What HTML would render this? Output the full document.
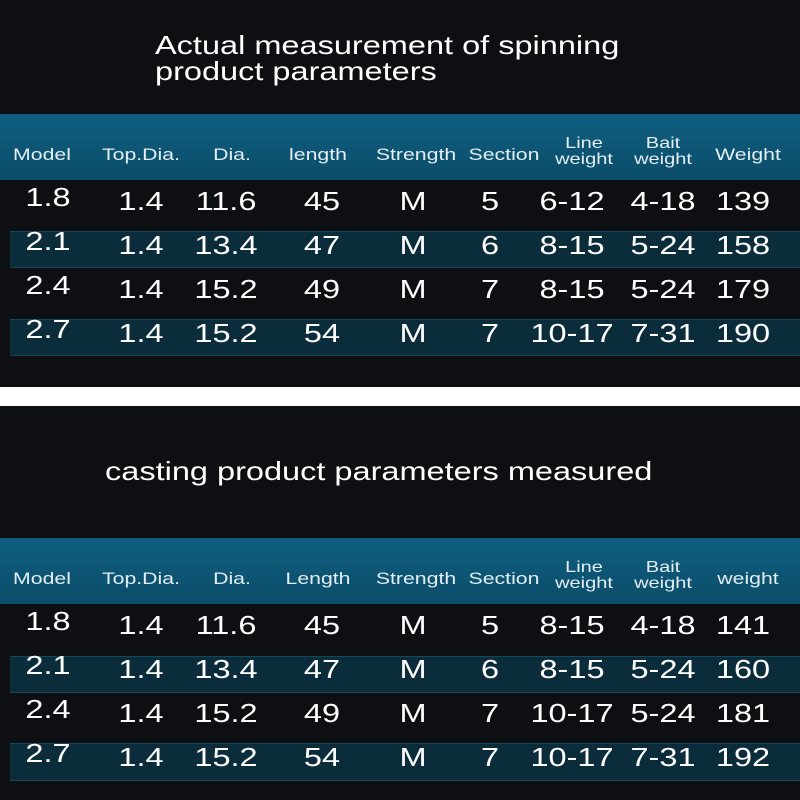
<!DOCTYPE html>
<html><head><meta charset="utf-8"><style>
body{margin:0;width:800px;height:800px;background:#0e0f13;position:relative;overflow:hidden;font-family:"Liberation Sans",sans-serif;color:#fff}
.a{position:absolute}
.t{position:absolute;transform:translateX(-50%) scaleX(1.25);white-space:nowrap;line-height:1}
.h{font-size:17px;color:#e4eef3}
.h2{font-size:16px;line-height:16px;text-align:center;color:#e4eef3}
.d{font-size:26px}
.ti{position:absolute;transform-origin:0 0;transform:scaleX(1.25);white-space:nowrap;font-size:26px;line-height:26px}
.hdr{background:linear-gradient(#0f5e80,#0b4d6a)}
.alt{background:#0b2c3b;border-top:1px solid #14475c;border-bottom:1px solid #14475c}
</style></head><body>
<div class="ti" style="left:155px;top:32px">Actual measurement of spinning<br>product parameters</div>
<div class="a hdr" style="left:0;top:114px;width:800px;height:66px"></div>
<div class="a alt" style="left:10px;top:231px;width:790px;height:35px"></div>
<div class="a alt" style="left:10px;top:319px;width:790px;height:35px"></div>
<div class="a" style="left:0;top:387px;width:800px;height:19px;background:#fff"></div>
<div class="ti" style="left:105px;top:458px">casting product parameters measured</div>
<div class="a hdr" style="left:0;top:538px;width:800px;height:66px"></div>
<div class="a alt" style="left:10px;top:656px;width:790px;height:35px"></div>
<div class="a alt" style="left:10px;top:743px;width:790px;height:36px"></div>
<div id="g"></div>
<script>
function put(y0,heads,rows){
 var xs=[48,141,226,322,413,490,572,663,743];
 var hx=[42,141,232,318,416,504,584,663,748];
 var s='';
 heads.forEach(function(h,i){
  if(h.indexOf('|')>=0){var p=h.split('|');s+='<div class="t h2" style="left:'+hx[i]+'px;top:'+(y0+22)+'px">'+p[0]+'<br>'+p[1]+'</div>';}
  else s+='<div class="t h" style="left:'+hx[i]+'px;top:'+(y0+32)+'px">'+h+'</div>';
 });
 rows.forEach(function(r,j){
  r.forEach(function(v,i){
   var y=y0+72+j*44+(i==0?-2:2);
   s+='<div class="t d" style="left:'+xs[i]+'px;top:'+y+'px">'+v+'</div>';
  });
 });
 document.getElementById('g').innerHTML+=s;
}
put(114,['Model','Top.Dia.','Dia.','length','Strength','Section','Line|weight','Bait|weight','Weight'],
[['1.8','1.4','11.6','45','M','5','6-12','4-18','139'],['2.1','1.4','13.4','47','M','6','8-15','5-24','158'],['2.4','1.4','15.2','49','M','7','8-15','5-24','179'],['2.7','1.4','15.2','54','M','7','10-17','7-31','190']]);
put(538,['Model','Top.Dia.','Dia.','Length','Strength','Section','Line|weight','Bait|weight','weight'],
[['1.8','1.4','11.6','45','M','5','8-15','4-18','141'],['2.1','1.4','13.4','47','M','6','8-15','5-24','160'],['2.4','1.4','15.2','49','M','7','10-17','5-24','181'],['2.7','1.4','15.2','54','M','7','10-17','7-31','192']]);
</script>
</body></html>
